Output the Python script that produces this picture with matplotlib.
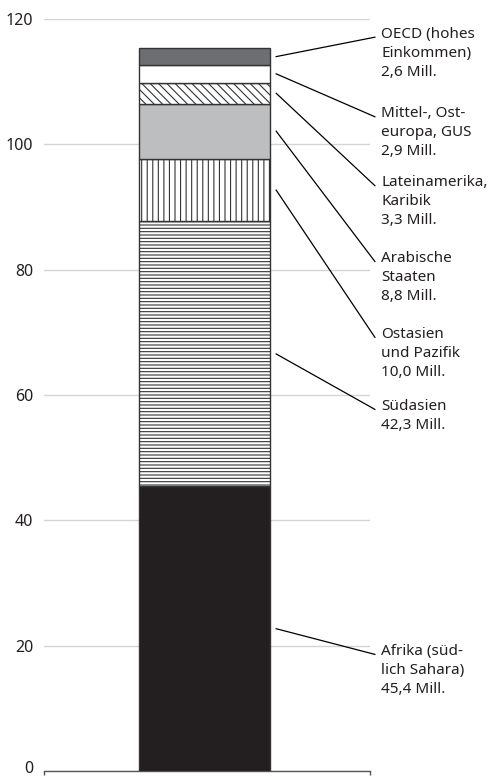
import matplotlib.pyplot as plt
import matplotlib.transforms as mtransforms

plt.rcParams['font.family'] = ['Noto Sans', 'DejaVu Sans']
plt.rcParams['hatch.linewidth'] = 0.8

# data (Mill.), from bottom to top
regions = ["Afrika (süd-\nlich Sahara)", "Südasien", "Ostasien\nund Pazifik",
           "Arabische\nStaaten", "Lateinamerika,\nKaribik",
           "Mittel-, Ost-\neuropa, GUS", "OECD (hohes\nEinkommen)"]
values = [45.4, 42.3, 10.0, 8.8, 3.3, 2.9, 2.6]
value_labels = ["45,4 Mill.", "42,3 Mill.", "10,0 Mill.", "8,8 Mill.",
                "3,3 Mill.", "2,9 Mill.", "2,6 Mill."]
yticks = [0, 20, 40, 60, 80, 100, 120]

# styling for each segment
colors = ["#231f20", "white", "white", "#bcbec0", "white", "white", "#6d6e71"]
hatches = [None, "-----", "|||", None, "\\\\\\\\", None, None]
# y position of each label (first line), in data units
label_y = [18.6, 57.7, 69.2, 81.3, 93.4, 104.4, 117.1]

fig = plt.figure(figsize=(4.96, 7.76), dpi=100)
ax = fig.add_axes([0.089, 0.0065, 0.657, 0.969])

bottom = 0
for i in range(len(values)):
    ax.bar(0.492, values[i], width=0.402, bottom=bottom, color=colors[i],
           hatch=hatches[i], edgecolor="#333333", linewidth=1, zorder=3)
    mid = bottom + values[i] / 2
    ax.plot([0.712, 1.015], [mid, label_y[i]], color="black", lw=0.9,
            clip_on=False, zorder=4)
    ax.text(1.034, label_y[i] + 1.7, regions[i] + "\n" + value_labels[i],
            va="top", ha="left", fontsize=11, linespacing=1.38,
            color="#231f20", clip_on=False)
    bottom += values[i]

ax.set_xlim(0, 1)
ax.set_ylim(0, 120)
ax.set_yticks(yticks)
ax.set_xticks([0, 1])
ax.set_xticklabels([])
ax.tick_params(axis="y", length=0, labelsize=11.5, labelcolor="#231f20", pad=8)
ax.tick_params(axis="x", length=3, width=1, color="#555555", direction="out")
ax.grid(axis="y", color="#d4d4d4", lw=1, zorder=0)
for s in ["top", "right", "left"]:
    ax.spines[s].set_visible(False)
ax.spines["bottom"].set_color("#555555")
ax.spines["bottom"].set_linewidth(1)

# lift the "0" label a little so it is not cut at the bottom edge
lbl0 = ax.get_yticklabels()[0]
lbl0.set_transform(lbl0.get_transform() +
                   mtransforms.ScaledTranslation(0, 3 / 72, fig.dpi_scale_trans))

plt.savefig("out.png", dpi=100)
